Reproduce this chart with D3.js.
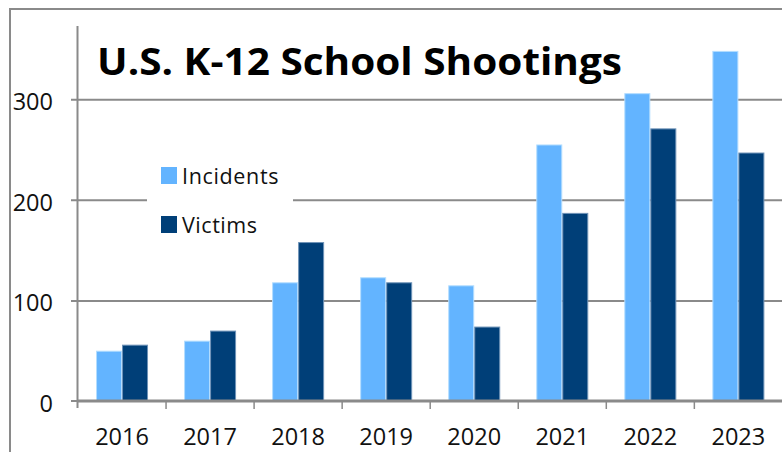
<!DOCTYPE html>
<html>
<head>
<meta charset="utf-8">
<script src="https://cdn.jsdelivr.net/npm/d3@7"></script>
<style>
  html, body { margin: 0; padding: 0; background: #fff; }
  svg { display: block; }
  text { font-family: "Open Sans", "Liberation Sans", sans-serif; }
</style>
</head>
<body>
<svg id="chart" width="782" height="452"></svg>
<script>
const title = "U.S. K-12 School Shootings";
const years = ["2016", "2017", "2018", "2019", "2020", "2021", "2022", "2023"];
const seriesNames = ["Incidents", "Victims"];
const incidents = [50, 60, 118, 123, 115, 255, 306, 348];
const victims = [56, 70, 158, 118, 74, 187, 271, 247];
const yTicks = [0, 100, 200, 300];
const colors = ["#63B4FF", "#003F78"];
const edgeColors = ["#B3DDFF", "#6F93B8"];

const values = [incidents, victims];
const svg = d3.select("#chart");
const W = 782, H = 452;

const plot = { left: 78, right: 782.4, top: 26, bottom: 401 };

const x = d3.scaleBand().domain(years).range([plot.left, plot.right]).paddingInner(0).paddingOuter(0);
const xSub = d3.scaleBand().domain(seriesNames).range([0, x.bandwidth()]).paddingInner(0).paddingOuter(0.693);
const y = d3.scaleLinear().domain([0, 300]).range([plot.bottom, 99.2]);

// outer frame
svg.append("rect").attr("x", 10).attr("y", 9).attr("width", W + 20).attr("height", H + 20)
  .attr("fill", "none").attr("stroke", "#8a8a8a").attr("stroke-width", 2);

const gray = "#8a8a8a";

// gridlines with left ticks
const gridAxis = d3.axisLeft(y).tickValues(yTicks.filter(v => v > 0))
  .tickSize(-(plot.right - plot.left) - 8).tickFormat("");
const gg = svg.append("g").attr("transform", `translate(${plot.left - 7},0)`).call(gridAxis);
gg.select(".domain").remove();
gg.selectAll(".tick line").attr("stroke", gray).attr("stroke-width", 2).attr("x1", 0).attr("x2", plot.right - plot.left + 8);

// y tick labels
svg.append("g").selectAll("text").data(yTicks).join("text")
  .attr("x", 53).attr("y", d => y(d) + 2)
  .attr("text-anchor", "end").attr("dominant-baseline", "central")
  .attr("font-size", 23.5).attr("fill", "#111")
  .text(d => d);

// zero tick
svg.append("line").attr("x1", plot.left - 7).attr("x2", plot.left).attr("y1", y(0)).attr("y2", y(0))
  .attr("stroke", gray).attr("stroke-width", 2);

// bars
const groups = svg.append("g").selectAll("g").data(years).join("g")
  .attr("transform", d => `translate(${x(d)},0)`);
groups.selectAll("rect").data((d, i) => seriesNames.map((s, k) => ({ s, k, v: values[k][i] }))).join("rect")
  .attr("x", d => xSub(d.s) + 0.5)
  .attr("width", xSub.bandwidth() - 1)
  .attr("y", d => y(d.v) + 0.5)
  .attr("height", d => y(0) - y(d.v) - 0.5)
  .attr("fill", d => colors[d.k])
  .attr("stroke", d => edgeColors[d.k])
  .attr("stroke-width", 1);

// x axis
const xAxis = d3.axisBottom(x).tickSize(0).tickFormat("");
const xg = svg.append("g").attr("transform", `translate(0,${y(0)})`).call(xAxis);
xg.select(".domain").attr("stroke", gray).attr("stroke-width", 3).attr("d", `M${plot.left - 1},0H${W + 2}`);
xg.selectAll(".tick").remove();
// category boundary ticks
const boundaries = years.map(d => x(d)).concat([]);
svg.append("g").selectAll("line").data(boundaries.slice(1)).join("line")
  .attr("x1", d => d).attr("x2", d => d).attr("y1", y(0)).attr("y2", y(0) + 8)
  .attr("stroke", gray).attr("stroke-width", 1.5);

// y axis line
svg.append("line").attr("x1", plot.left - 0.5).attr("x2", plot.left - 0.5)
  .attr("y1", plot.top).attr("y2", y(0) + 7)
  .attr("stroke", gray).attr("stroke-width", 2);

// x labels
svg.append("g").selectAll("text").data(years).join("text")
  .attr("x", d => x(d) + x.bandwidth() / 2)
  .attr("y", 445)
  .attr("text-anchor", "middle")
  .attr("font-size", 23.5).attr("fill", "#111")
  .text(d => d);

// legend
svg.append("rect").attr("x", 147).attr("y", 156).attr("width", 146).attr("height", 90).attr("fill", "#fff");
const leg = svg.append("g").selectAll("g").data(seriesNames).join("g")
  .attr("transform", (d, i) => `translate(161,${167 + i * 49})`);
leg.append("rect").attr("width", 16).attr("height", 17).attr("fill", (d, i) => colors[i]);
leg.append("text").attr("x", 21).attr("y", 16.5).attr("font-size", 21.5).attr("fill", "#111")
  .text(d => d)
  .attr("textLength", (d, i) => i === 0 ? 96.5 : 75).attr("lengthAdjust", "spacing");

// title
svg.append("text").attr("x", 97).attr("y", 75)
  .attr("font-size", 37).attr("font-weight", "bold").attr("fill", "#000")
  .attr("textLength", 525).attr("lengthAdjust", "spacingAndGlyphs")
  .text(title);
</script>
</body>
</html>
